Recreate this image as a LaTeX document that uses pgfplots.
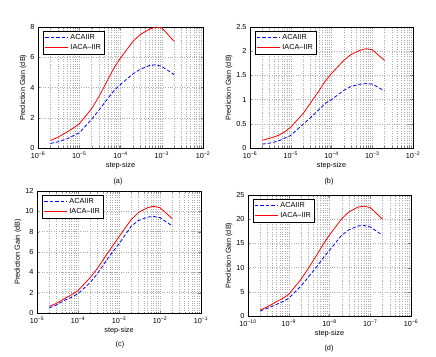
\documentclass[border=0pt]{standalone}
\usepackage{fontspec}
\setmainfont{Liberation Sans}
\usepackage{pgfplots}
\pgfplotsset{compat=1.18}

\pgfplotsset{
  every axis/.append style={
    scale only axis,
    font=\fontsize{7.3}{8.5}\selectfont,
    /pgf/number format/assume math mode=true,
    tick align=inside, xtick pos=both, ytick pos=both,
    major tick length=2.5pt, minor tick length=1.5pt,
    xmajorgrids, xminorgrids, ymajorgrids,
    major grid style={dotted, gray!65, line width=0.35pt},
    minor grid style={dotted, gray!65, line width=0.35pt},
    xlabel={step-size}, ylabel={Prediction Gain (dB)},
    xlabel style={yshift=3pt}, ylabel style={yshift=-3pt},
    legend style={at={(0.03,0.97)}, anchor=north west, draw=black,
      font=\fontsize{7.3}{8.5}\selectfont, inner sep=1.5pt, row sep=-0.5pt},
    legend cell align=left,
    legend image post style={xscale=1.35},
  },
}
\tikzset{
  aca/.style={blue, line width=0.8pt, dash pattern=on 3.5pt off 2pt},
  iaca/.style={red, line width=0.8pt},
}

\begin{document}
\begin{tikzpicture}
\useasboundingbox (0pt,0pt) rectangle (436pt,356pt);

% (a)
\begin{semilogxaxis}[at={(38pt,208pt)}, anchor=south west, width=165pt, height=121pt,
  xmin=1e-6, xmax=1e-2, ymin=0, ymax=8, ytick={0,2,4,6,8},
  xtick={1e-6,1e-5,1e-4,1e-3,1e-2},
  xticklabels={10\textsuperscript{−6},10\textsuperscript{−5},10\textsuperscript{−4},10\textsuperscript{−3},10\textsuperscript{−2}}]
\addplot[aca] coordinates {(2e-6,0.3) (3e-6,0.4) (5e-6,0.6) (7e-6,0.8) (1e-5,1.0) (2e-5,1.9) (3e-5,2.5) (5e-5,3.3) (7e-5,3.8) (1e-4,4.2) (2e-4,4.9) (3e-4,5.2) (5e-4,5.45) (7e-4,5.5) (1e-3,5.4) (2e-3,4.85)};
\addlegendentry{ACAIIR}
\addplot[iaca] coordinates {(2e-6,0.5) (3e-6,0.7) (5e-6,1.05) (7e-6,1.3) (1e-5,1.6) (2e-5,2.6) (3e-5,3.4) (5e-5,4.55) (7e-5,5.3) (1e-4,5.95) (2e-4,7.05) (3e-4,7.5) (5e-4,7.85) (7e-4,8.0) (1e-3,7.95) (2e-3,7.05)};
\addlegendentry{IACA--IIR}
\end{semilogxaxis}
\node[font=\fontsize{7.3}{8.5}\selectfont] at (118pt,174pt) {(a)};

% (b)
\begin{semilogxaxis}[at={(250pt,208pt)}, anchor=south west, width=163pt, height=121pt,
  xmin=1e-6, xmax=1e-2, ymin=0, ymax=2.5, ytick={0,0.5,1,1.5,2,2.5},
  xtick={1e-6,1e-5,1e-4,1e-3,1e-2},
  xticklabels={10\textsuperscript{−6},10\textsuperscript{−5},10\textsuperscript{−4},10\textsuperscript{−3},10\textsuperscript{−2}}]
\addplot[aca] coordinates {(2e-6,0.08) (3e-6,0.1) (5e-6,0.145) (7e-6,0.2) (1e-5,0.26) (2e-5,0.49) (3e-5,0.62) (5e-5,0.8) (7e-5,0.92) (1e-4,1.0) (2e-4,1.19) (3e-4,1.27) (5e-4,1.32) (7e-4,1.33) (1e-3,1.32) (2e-3,1.18)};
\addlegendentry{ACAIIR}
\addplot[iaca] coordinates {(2e-6,0.16) (3e-6,0.2) (5e-6,0.26) (7e-6,0.33) (1e-5,0.43) (2e-5,0.71) (3e-5,0.92) (5e-5,1.19) (7e-5,1.38) (1e-4,1.54) (2e-4,1.81) (3e-4,1.93) (5e-4,2.02) (7e-4,2.05) (1e-3,2.03) (2e-3,1.81)};
\addlegendentry{IACA--IIR}
\end{semilogxaxis}
\node[font=\fontsize{7.3}{8.5}\selectfont] at (329pt,174pt) {(b)};

% (c)
\begin{semilogxaxis}[at={(37pt,43pt)}, anchor=south west, width=164pt, height=122pt,
  xmin=1e-5, xmax=1e-1, ymin=0, ymax=12, ytick={0,2,4,6,8,10,12},
  xtick={1e-5,1e-4,1e-3,1e-2,1e-1},
  xticklabels={10\textsuperscript{−5},10\textsuperscript{−4},10\textsuperscript{−3},10\textsuperscript{−2},10\textsuperscript{−1}}]
\addplot[aca] coordinates {(2e-5,0.5) (3e-5,0.8) (5e-5,1.3) (7e-5,1.55) (1e-4,1.9) (2e-4,3.0) (3e-4,3.9) (5e-4,5.2) (7e-4,6.0) (1e-3,6.8) (2e-3,8.55) (3e-3,9.1) (5e-3,9.44) (7e-3,9.5) (1e-2,9.38) (2e-2,8.55)};
\addlegendentry{ACAIIR}
\addplot[iaca] coordinates {(2e-5,0.66) (3e-5,0.95) (5e-5,1.48) (7e-5,1.8) (1e-4,2.2) (2e-4,3.5) (3e-4,4.4) (5e-4,5.76) (7e-4,6.6) (1e-3,7.5) (2e-3,9.2) (3e-3,9.9) (5e-3,10.36) (7e-3,10.5) (1e-2,10.36) (2e-2,9.28)};
\addlegendentry{IACA--IIR}
\end{semilogxaxis}
\node[font=\fontsize{7.3}{8.5}\selectfont] at (120pt,11pt) {(c)};

% (d)
\begin{semilogxaxis}[at={(248pt,40pt)}, anchor=south west, width=163pt, height=121pt,
  xmin=1e-10, xmax=1e-6, ymin=0, ymax=25, ytick={0,5,10,15,20,25},
  xtick={1e-10,1e-9,1e-8,1e-7,1e-6},
  xticklabels={10\textsuperscript{−10},10\textsuperscript{−9},10\textsuperscript{−8},10\textsuperscript{−7},10\textsuperscript{−6}}]
\addplot[aca] coordinates {(2e-10,1.03) (3e-10,1.6) (5e-10,2.4) (7e-10,2.9) (1e-9,3.65) (2e-9,6.2) (3e-9,8.0) (5e-9,10.3) (7e-9,12.0) (1e-8,13.57) (2e-8,16.7) (3e-8,17.8) (5e-8,18.6) (7e-8,18.7) (1e-7,18.4) (2e-7,16.7)};
\addlegendentry{ACAIIR}
\addplot[iaca] coordinates {(2e-10,1.24) (3e-10,1.9) (5e-10,2.96) (7e-10,3.6) (1e-9,4.48) (2e-9,7.58) (3e-9,9.8) (5e-9,12.74) (7e-9,14.8) (1e-8,16.74) (2e-8,20.1) (3e-8,21.5) (5e-8,22.5) (7e-8,22.7) (1e-7,22.4) (2e-7,20.0)};
\addlegendentry{IACA--IIR}
\end{semilogxaxis}
\node[font=\fontsize{7.3}{8.5}\selectfont] at (329pt,7pt) {(d)};
\end{tikzpicture}
\end{document}
